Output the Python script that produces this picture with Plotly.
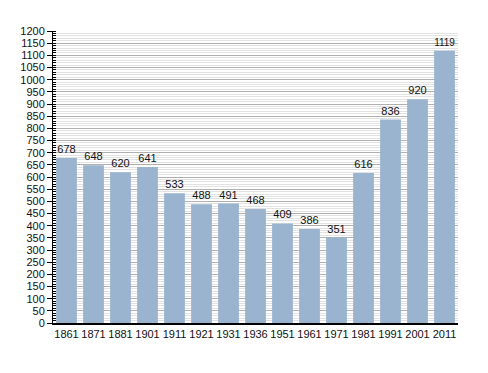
import plotly.graph_objects as go

years = ["1861", "1871", "1881", "1901", "1911", "1921", "1931", "1936",
         "1951", "1961", "1971", "1981", "1991", "2001", "2011"]
population = [678, 648, 620, 641, 533, 488, 491, 468, 409, 386, 351, 616, 836, 920, 1119]
y_ticks = list(range(0, 1201, 50))

fig = go.Figure(go.Bar(
    x=years, y=population,
    marker=dict(color="#9ab4cf", line=dict(width=0)),
    text=[str(v) for v in population], textposition="outside",
    textfont=dict(family="Liberation Sans, Arial, sans-serif", size=11, color="#111"),
    cliponaxis=False,
))

# page body has an 8px default margin, so the figure is sized/margined to compensate
fig.update_layout(
    width=480, height=365,
    margin=dict(l=42, r=30, t=23, b=50),
    paper_bgcolor="white", plot_bgcolor="white",
    bargap=0.23, showlegend=False,
    font=dict(family="Liberation Sans, Arial, sans-serif", size=11, color="#111"),
)
fig.update_xaxes(
    type="category", showline=True, linecolor="black", linewidth=1.5,
    ticks="", showgrid=False, tickfont=dict(size=11),
)
fig.update_yaxes(
    range=[0, 1200], tickvals=y_ticks, ticktext=[str(v) for v in y_ticks],
    showline=True, linecolor="black", linewidth=1,
    ticks="outside", ticklen=5, tickcolor="black",
    showgrid=True, gridcolor="#b0b0b0", gridwidth=1,
    minor=dict(dtick=10, showgrid=True, gridcolor="#e2e2e2", gridwidth=1,
               ticks="inside", ticklen=3, tickcolor="black"),
    zeroline=False, tickfont=dict(size=11),
)

fig.write_html("out.html")
